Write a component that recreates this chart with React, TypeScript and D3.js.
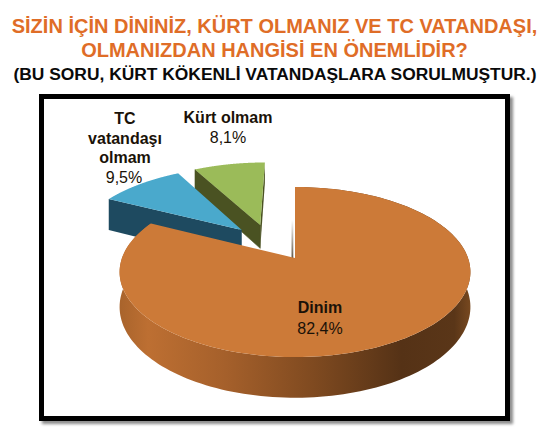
import React from 'react';
import * as d3 from 'd3';

const categories = ['Dinim', 'TC vatandaşı olmam', 'Kürt olmam'];
const values = [82.4, 9.5, 8.1];
const valueLabels = ['82,4%', '9,5%', '8,1%'];
const titleLines = ['SİZİN İÇİN DİNİNİZ, KÜRT OLMANIZ VE TC VATANDAŞI,', 'OLMANIZDAN HANGİSİ EN ÖNEMLİDİR?'];
const subtitle = '(BU SORU, KÜRT KÖKENLİ VATANDAŞLARA SORULMUŞTUR.)';

const width = 544;
const height = 431;
const fontFamily = '"Liberation Sans", Arial, sans-serif';

// pie is tilted with a bit of perspective, back of the disc gets smaller
const cx = 295;
const cy = 258;
const rx = 173;
const ry = 82.7;
const persp = 0.165;

const topColors = ['#cc7a38', '#4aa9cc', '#9bbb59'];
const wallColors = ['url(#wallOrange)', '#1e4a60', '#4a5222'];
const depths = [34, 35, 25];
// slice offset on the disc (right, back)
const offsets = [[0, 0], [-0.326, 0.359], [-0.215, 0.427]];

const project = (u: number, v: number): [number, number] => {
  const w = 1 + persp * v;
  return [cx + (rx * u) / w, cy - (ry * v) / w];
};

const line = d3.line<[number, number]>();

const slices = d3.pie<number>().sort(null).startAngle(0).endAngle(2 * Math.PI)(values);

export default function App() {
  const pieces = slices.map((s, i) => {
    const [ox, oy] = offsets[i];
    const depth = depths[i];
    const steps = d3.range(0, 181).map(k => s.startAngle + ((s.endAngle - s.startAngle) * k) / 180);
    const toDisc = (a: number): [number, number] => [ox + Math.sin(a), oy + Math.cos(a)];
    const rim = steps.map(a => toDisc(a));
    const down = ([u, v]: [number, number]): [number, number] => {
      const p = project(u, v);
      return [p[0], p[1] + depth / (1 + persp * v)];
    };
    const apex: [number, number] = [ox, oy];
    const topFace = [apex, ...rim].map(d => project(d[0], d[1]));
    // outer wall, only the main slice shows it
    const outerWall = [...rim.map(d => project(d[0], d[1])), ...rim.slice().reverse().map(down)];
    // wall along the slice's first edge and last edge
    const edgeWall = (end: [number, number]) => [project(apex[0], apex[1]), project(end[0], end[1]), down(end), down(apex)];
    return { topFace, outerWall, startWall: edgeWall(rim[0]), endWall: edgeWall(rim[rim.length - 1]) };
  });

  const drawOrder = [2, 1, 0];
  const [apexX, apexY] = project(0, 0);

  return (
    <svg width={width} height={height} style={{ position: 'absolute', left: 0, top: 0 }} fontFamily={fontFamily}>
      <defs>
        <linearGradient id="wallOrange" gradientUnits="userSpaceOnUse" x1={120} x2={472} y1={0} y2={0}>
          <stop offset="0" stopColor="#a9642c" />
          <stop offset="0.08" stopColor="#bd6f32" />
          <stop offset="0.3" stopColor="#a5602b" />
          <stop offset="0.55" stopColor="#7f4a20" />
          <stop offset="0.8" stopColor="#553216" />
          <stop offset="0.95" stopColor="#5a3618" />
          <stop offset="1" stopColor="#7a4a20" />
        </linearGradient>
        <linearGradient id="edgeFade" x1="0" x2="0" y1="0" y2="1">
          <stop offset="0" stopColor="#fff" />
          <stop offset="1" stopColor="#5a5040" />
        </linearGradient>
        <filter id="soft" x="-5%" y="-5%" width="110%" height="110%">
          <feGaussianBlur stdDeviation="1.5" />
        </filter>
      </defs>

      <g textAnchor="middle" fontWeight="bold">
        {titleLines.map((t, i) => (
          <text key={t} x={274.5} y={33 + i * 24} fontSize={20} fill="#df6d27">{t}</text>
        ))}
        <text x={275} y={80} fontSize={17.4} fill="#0a0a0a">{subtitle}</text>
      </g>

      {/* frame */}
      <rect x={44.5} y={99.5} width={466} height={322} fill="none" stroke="#8a8a8a" strokeWidth={5} filter="url(#soft)" />
      <rect x={41.5} y={96.5} width={466} height={322} fill="#fff" stroke="#000" strokeWidth={5} />

      {/* pie */}
      {drawOrder.map(i => (
        <g key={categories[i]}>
          {i === 0 && <path d={line(pieces[i].outerWall) + 'Z'} fill={wallColors[i]} />}
          {i === 0 && <rect x={apexX - 3.5} y={apexY - 38} width={1.8} height={40} fill="url(#edgeFade)" />}
          {i === 1 && <path d={line(pieces[i].startWall) + 'Z'} fill={wallColors[i]} />}
          {i === 2 && <path d={line(pieces[i].endWall) + 'Z'} fill={wallColors[i]} />}
          {i === 2 && <path d={line(pieces[i].startWall) + 'Z'} fill={wallColors[i]} stroke={wallColors[i]} strokeWidth={0.6} />}
          <path d={line(pieces[i].topFace) + 'Z'} fill={topColors[i]} />
        </g>
      ))}

      {/* labels */}
      <g textAnchor="middle" fontSize={16} fill="#1a1208">
        <text x={320} y={313} fontWeight="bold">{categories[0]}</text>
        <text x={320} y={334}>{valueLabels[0]}</text>
        <text x={125} y={124} fontWeight="bold">TC</text>
        <text x={125} y={143.5} fontWeight="bold">vatandaşı</text>
        <text x={125} y={163} fontWeight="bold">olmam</text>
        <text x={124} y={183}>{valueLabels[1]}</text>
        <text x={228} y={123} fontWeight="bold">{categories[2]}</text>
        <text x={228} y={143}>{valueLabels[2]}</text>
      </g>
    </svg>
  );
}
